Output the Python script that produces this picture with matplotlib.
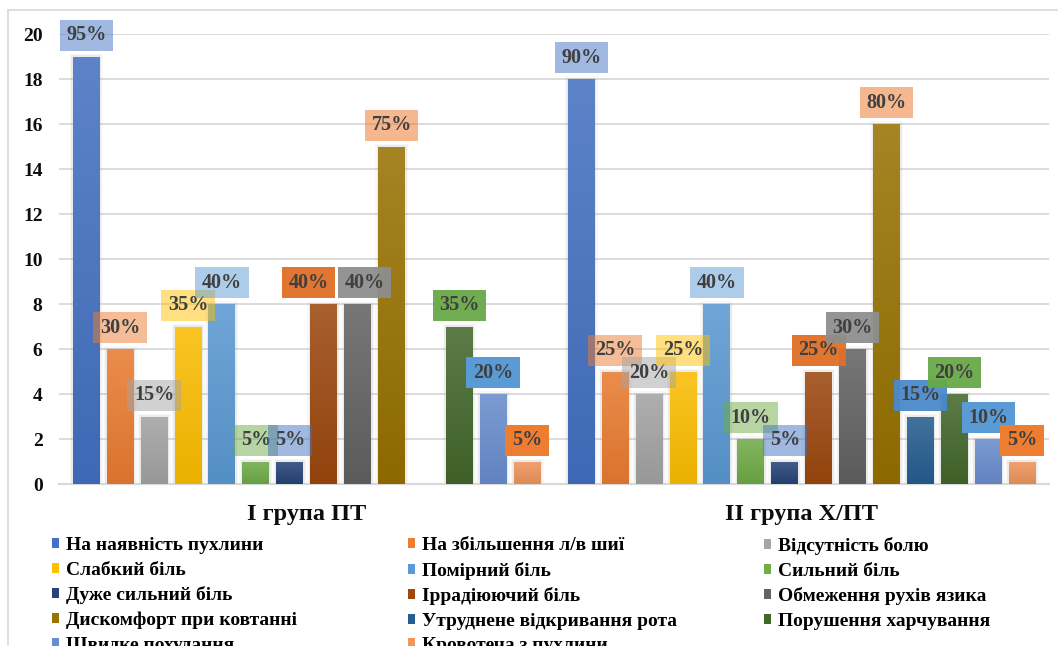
import numpy as np
import matplotlib
matplotlib.use('Agg')
import matplotlib.pyplot as plt
from matplotlib.path import Path
from matplotlib.colors import to_rgb
from matplotlib.lines import Line2D
from matplotlib.patches import Patch, Rectangle

# ---------------- data ----------------
categories = ['I група ПТ', 'II група Х/ПТ']
series_names = ['На наявність пухлини', 'На збільшення л/в шиї', 'Відсутність болю',
                'Слабкий біль', 'Помірний біль', 'Сильний біль',
                'Дуже сильний біль', 'Іррадіюючий біль', 'Обмеження рухів язика',
                'Дискомфорт при ковтанні', 'Утруднене відкривання рота', 'Порушення харчування',
                'Швидке похудання', 'Кровотеча з пухлини']
group1_values = [19, 6, 3, 7, 8, 1, 1, 8, 8, 15, np.nan, 7, 4, 1]
group2_values = [18, 5, 4, 5, 8, 2, 1, 5, 6, 16, 3, 4, 2, 1]
group1_labels = ['95%', '30%', '15%', '35%', '40%', '5%', '5%', '40%', '40%', '75%', '', '35%', '20%', '5%']
group2_labels = ['90%', '25%', '20%', '25%', '40%', '10%', '5%', '25%', '30%', '80%', '15%', '20%', '10%', '5%']
y_ticks = [0, 2, 4, 6, 8, 10, 12, 14, 16, 18, 20]

# ---------------- style ----------------
series_colors = ['#4472C4', '#ED7D31', '#A5A5A5', '#FFC000', '#5B9BD5', '#70AD47',
                 '#264478', '#9E480E', '#636363', '#997300', '#255E91', '#43682B',
                 '#698ED0', '#F1975A']
label_box_colors = [('#4472C4', 0.5), ('#ED7D31', 0.5), ('#A5A5A5', 0.5), ('#FFC000', 0.5),
                    ('#5B9BD5', 0.5), ('#70AD47', 0.5), ('#4472C4', 0.5), ('#E06F26', 0.95),
                    ('#8E8E8E', 0.95), ('#ED7D31', 0.55), ('#4A8ACB', 0.95), ('#68A846', 0.95),
                    ('#5B9BD5', 1.0), ('#ED7D31', 1.0)]
label_nudges_px = {(0, 7): -15, (0, 8): 7}

plt.rcParams['font.family'] = ['Liberation Serif', 'DejaVu Serif']
plt.rcParams['font.weight'] = 'bold'

W, H = 1058, 646
fig = plt.figure(figsize=(W / 100, H / 100), dpi=100)
ax = fig.add_axes([59.25 / W, 1 - 484.3 / H, 990 / W, 450 / H])

n_series = len(series_names)
slot = 0.0685
bar_w = 0.0545
x = np.arange(len(categories))
values = np.array([group1_values, group2_values], dtype=float)
labels = [group1_labels, group2_labels]

px_x = 1 / 495.0
px_y = 1 / 22.5


def mix(c, other, t):
    c = np.array(to_rgb(c)); o = np.array(to_rgb(other))
    return c * (1 - t) + o * t


for i in range(n_series):
    offs = (i - (n_series - 1) / 2) * slot
    bars = ax.bar(x + offs, values[:, i], width=bar_w, color=series_colors[i], zorder=3,
                  linewidth=0)
    base = np.array(to_rgb(series_colors[i]))
    top = mix(series_colors[i], '#E0E0E0', 0.16)
    bottom = base * 0.92
    grad = np.linspace(0, 1, 128)[:, None, None]
    img = bottom[None, None, :] * (1 - grad) + top[None, None, :] * grad
    for b in bars:
        h = b.get_height()
        if not np.isfinite(h) or h <= 0:
            continue
        x0 = b.get_x(); x1 = x0 + b.get_width()
        # soft shadow
        for k, a in ((3.0, 0.05), (1.5, 0.10)):
            ax.add_patch(Rectangle((x0 - k * px_x, 0), (x1 - x0) + 2 * k * px_x, h + k * px_y,
                                   facecolor='#808080', alpha=a, edgecolor='none', zorder=2.5))
        im = ax.imshow(img, extent=(x0, x1, 0, h), origin='lower', aspect='auto', zorder=3.5,
                       interpolation='bilinear')
        im.set_clip_path(b)


def label_box(x0, y0, width, height, mutation_size):
    padx = 0.33 * mutation_size
    pady = 0.28 * mutation_size
    x0, y0 = x0 - padx, y0 - pady
    x1, y1 = x0 + width + 2 * padx, y0 + height + 2 * pady
    return Path([(x0, y0), (x1, y0), (x1, y1), (x0, y1), (x0, y0)], closed=True)


for g in range(len(categories)):
    for i in range(n_series):
        v = values[g, i]
        lab = labels[g][i]
        if not np.isfinite(v) or lab == '':
            continue
        offs = (i - (n_series - 1) / 2) * slot
        fc, al = label_box_colors[i]
        dx = label_nudges_px.get((g, i), 0) * 0.72
        ax.annotate(lab, xy=(x[g] + offs, v), xytext=(dx, 21.5 * 0.72), textcoords='offset points',
                    ha='center', va='center', fontsize=14.5, fontweight='bold', color='#3F3F3F',
                    bbox=dict(boxstyle=label_box, fc=fc, alpha=al, ec='none'), zorder=6,
                    annotation_clip=False)

ax.set_xlim(-0.5, 1.5)
ax.set_ylim(0, 20)
ax.set_yticks(y_ticks)
ax.set_xticks(x, labels=categories)
ax.tick_params(axis='y', length=0, pad=12, labelsize=14, labelcolor='#0D0D0D')
ax.tick_params(axis='x', length=0, pad=14, labelsize=17.5, labelcolor='#0D0D0D')
ax.yaxis.grid(True, color='#D9D9D9', linewidth=1.3, zorder=0)
ax.set_axisbelow(True)
for s in ('top', 'right', 'left'):
    ax.spines[s].set_visible(False)
ax.spines['bottom'].set_color('#D9D9D9')
ax.spines['bottom'].set_linewidth(1.6)

# legend in three columns (row-major order as in reference)
handles = [Patch(facecolor=c, edgecolor='none') for c in series_colors]
col_x = [52, 408, 764]
for col in range(3):
    idx = list(range(col, n_series, 3))
    fig.legend([handles[i] for i in idx], [series_names[i] for i in idx],
               loc='upper left', bbox_to_anchor=(col_x[col] / W, 1 - 537 / H),
               frameon=False, fontsize=14, handlelength=0.36, handleheight=0.42,
               handletextpad=0.38, labelspacing=0.39, borderaxespad=0, borderpad=0)

# outer chart frame (extends beyond the picture at right and bottom)
fig.add_artist(Line2D([8 / W, 8 / W], [0, 1 - 10 / H], transform=fig.transFigure,
                      color='#D9D9D9', linewidth=1.2))
fig.add_artist(Line2D([8 / W, 1], [1 - 10 / H, 1 - 10 / H], transform=fig.transFigure,
                      color='#D9D9D9', linewidth=1.2))

fig.savefig('out.png', dpi=100)
